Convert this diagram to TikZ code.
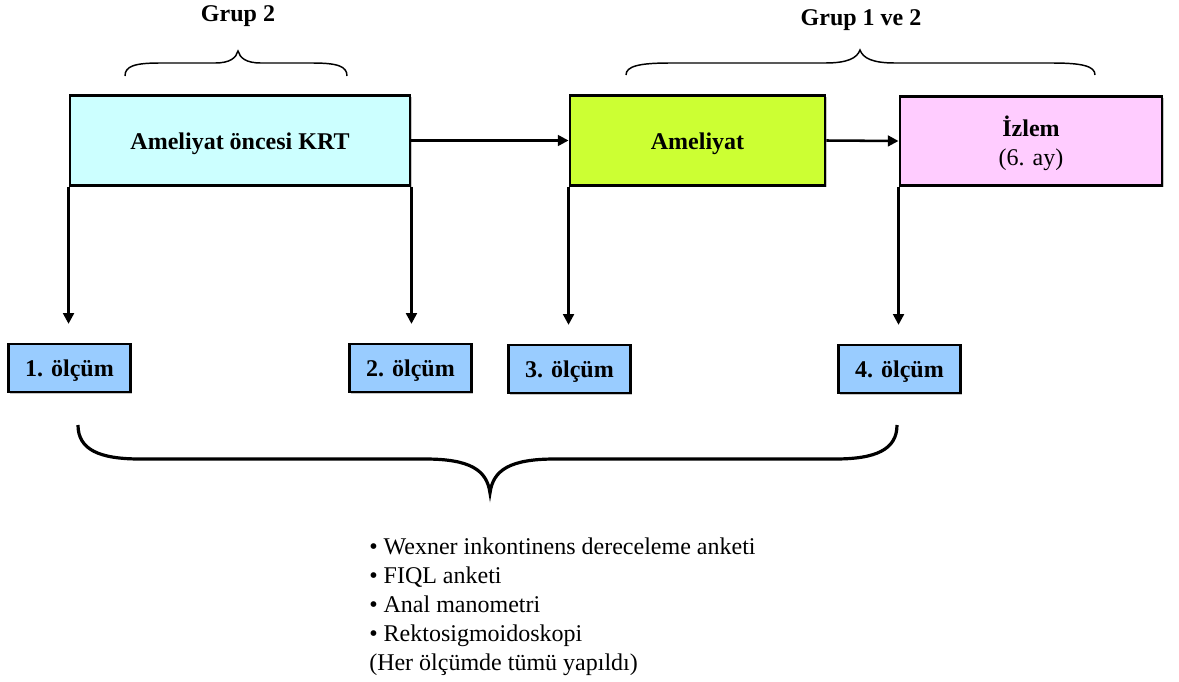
\documentclass[tikz,border=0pt]{standalone}
\usepackage{fontspec}
\setmainfont{Liberation Serif}
\usetikzlibrary{positioning,arrows.meta,shadows}
\definecolor{colorkrt}{HTML}{CCFFFF}
\definecolor{colorop}{HTML}{CCFF33}
\definecolor{colorfu}{HTML}{FFCCFF}
\definecolor{colorms}{HTML}{99CCFF}
\tikzset{
  phase/.style={draw, line width=2.2pt, minimum height=67pt, inner sep=0pt,
    text depth=0pt, align=center, font=\bfseries\fontsize{18}{21}\selectfont,
    drop shadow={shadow xshift=1.2pt, shadow yshift=-1.2pt, fill=black!45}},
  measure/.style={draw, line width=2.2pt, fill=colorms, minimum width=92pt,
    minimum height=36pt, inner sep=0pt, text depth=0pt,
    font=\bfseries\fontsize{18}{21}\selectfont,
    drop shadow={shadow xshift=1.2pt, shadow yshift=-1.2pt, fill=black!45}},
  grouplabel/.style={inner sep=0pt, font=\bfseries\fontsize{18}{21}\selectfont},
  edgeflow/.style={black, line width=1.9pt, -{Triangle[length=8pt,width=8pt]}},
  edgemeas/.style={edgeflow, shorten >=14pt},
  bracethin/.style={line width=1.1pt},
  bracethick/.style={line width=2.4pt}
}

\begin{document}
\begin{tikzpicture}[x=0.75pt, y=-0.75pt]
\useasboundingbox (0,0) rectangle (1179,682);

% phases
\node[phase, fill=colorkrt, minimum width=255pt, text height=14pt](krt) at (240,140.5)
{Ameliyat öncesi KRT};

\node[phase, fill=colorop, minimum width=191.25pt, text height=14pt](op) at (697.5,140.5)
{Ameliyat};

\node[phase, fill=colorfu, minimum width=196.5pt](fu) at (1031,141)
{İzlem\\[1pt]{\mdseries (6. ay)}};

% measurements
\node[measure](m1) at (69.5,368) {1. ölçüm};
\node[measure](m2) at (410.5,368) {2. ölçüm};
\node[measure](m3) at (569.5,369) {3. ölçüm};
\node[measure](m4) at (899.5,369) {4. ölçüm};

\draw[edgeflow] (krt.east) -- (op.west);
\draw[edgeflow] (op.east) -- (fu.west);

\draw[edgemeas] (krt.south west) -- (krt.south west |- m1.north);
\draw[edgemeas] (krt.south east) -- (krt.south east |- m2.north);
\draw[edgemeas] (op.south west) -- (op.south west |- m3.north);
\draw[edgemeas] (fu.south west) -- (fu.south west |- m4.north);

% groups
\node[grouplabel, anchor=base](g2) at (238,21) {Grup 2};
\node[grouplabel, anchor=base](g12) at (861,25) {Grup 1 ve 2};

\draw[bracethin] (125,76) .. controls (125,66) and (135,63) .. (160,63)
  -- (215,63) .. controls (230,63) and (236,58) .. (238,51)
  .. controls (240,58) and (246,63) .. (261,63) -- (312,63)
  .. controls (337,63) and (347,66) .. (347,76);

\draw[bracethin] (626,75) .. controls (626,66) and (640,63) .. (670,63)
  -- (825,63) .. controls (848,63) and (857,58) .. (860,50)
  .. controls (863,58) and (872,63) .. (895,63) -- (1052,63)
  .. controls (1082,63) and (1095,66) .. (1095,75);

% all measurements
\draw[bracethick] (78,425) .. controls (78,450) and (100,459) .. (140,459)
  -- (425,459) .. controls (470,459) and (487,470) .. (490,493)
  .. controls (493,470) and (510,459) .. (555,459) -- (835,459)
  .. controls (875,459) and (897,450) .. (897,425);

\node[anchor=north west, inner sep=0pt, align=left,
  font=\fontsize{18}{21.75}\selectfont](tests) at (369,538)
{• Wexner inkontinens dereceleme anketi\\
• FIQL anketi\\
• Anal manometri\\
• Rektosigmoidoskopi\\
(Her ölçümde tümü yapıldı)};
\end{tikzpicture}
\end{document}
